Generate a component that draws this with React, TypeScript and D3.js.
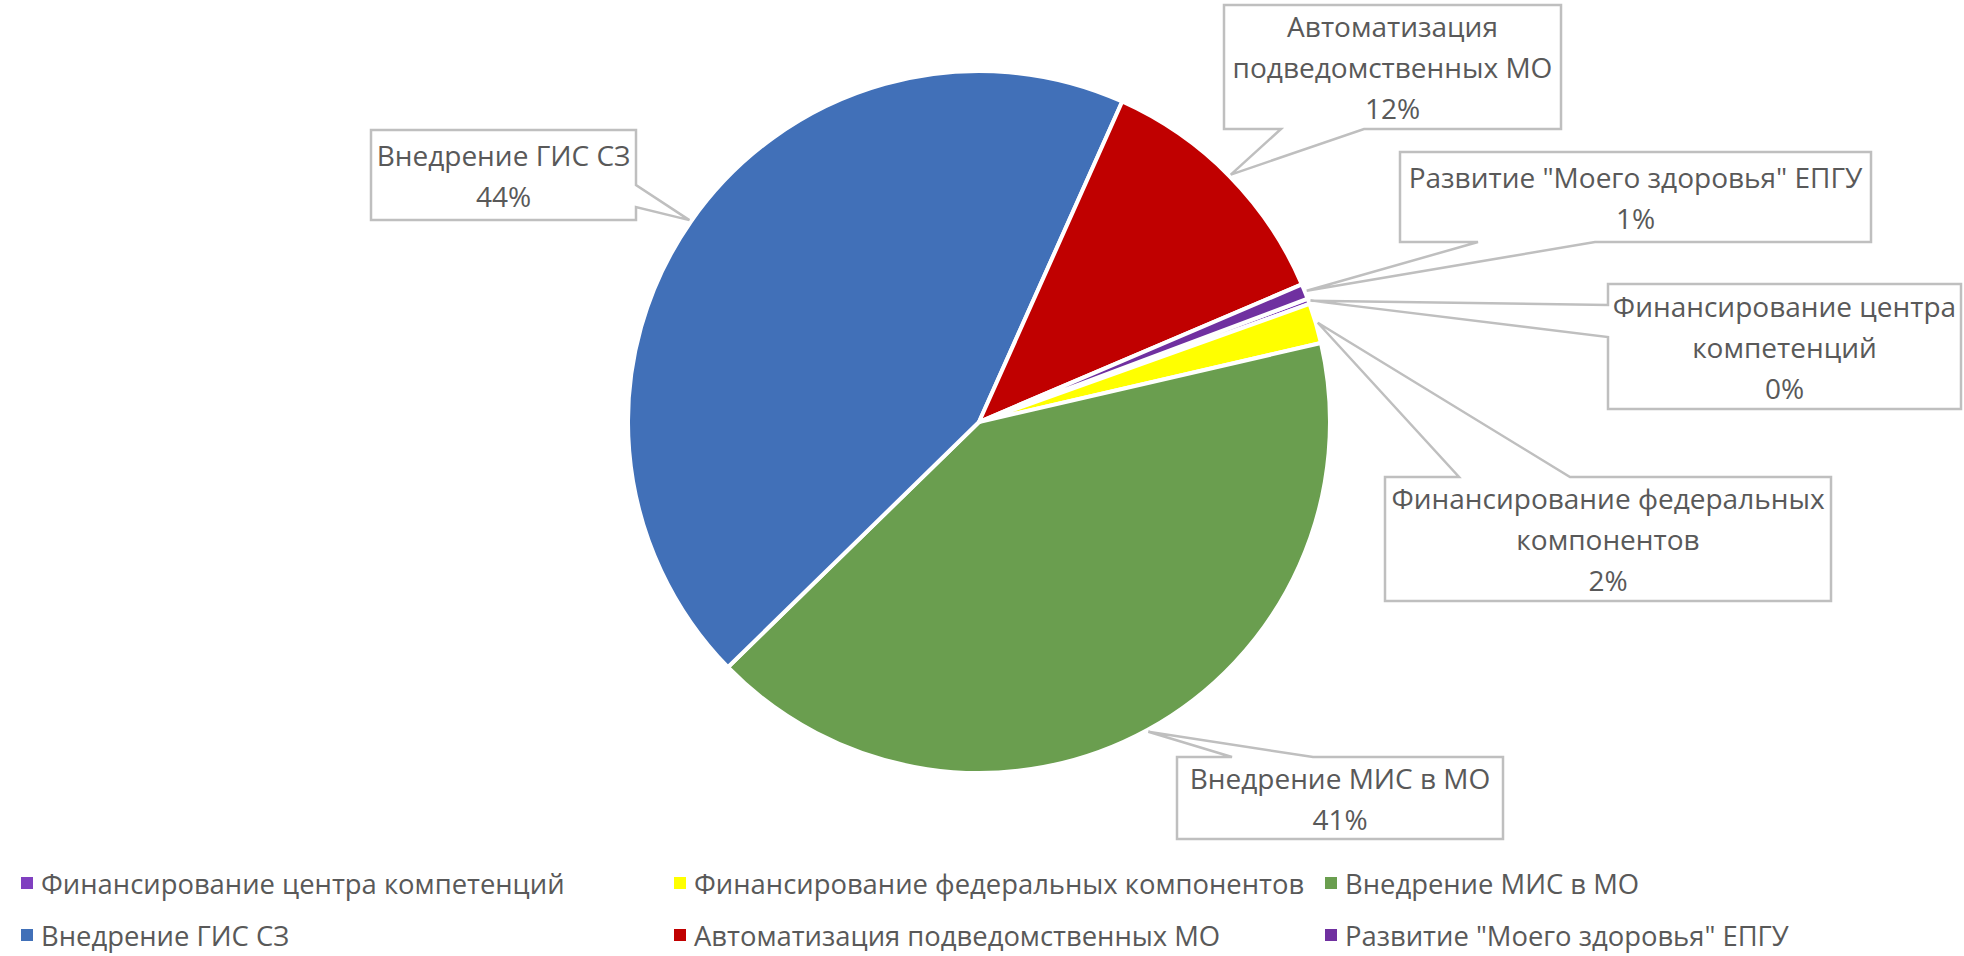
import React, { useEffect } from "react";
import { pie, arc, PieArcDatum } from "d3";

// order of series as Excel stacks them clockwise from the first slice angle
const categories = [
  "Финансирование центра компетенций",
  "Финансирование федеральных компонентов",
  "Внедрение МИС в МО",
  "Внедрение ГИС СЗ",
  "Автоматизация подведомственных МО",
  'Развитие "Моего здоровья" ЕПГУ',
];
const shares = [0.25, 1.85, 41.3, 44.0, 11.9, 0.7];
const percentLabels = ["0%", "2%", "41%", "44%", "12%", "1%"];
const labelLines = [
  ["Финансирование центра", "компетенций"],
  ["Финансирование федеральных", "компонентов"],
  ["Внедрение МИС в МО"],
  ["Внедрение ГИС СЗ"],
  ["Автоматизация", "подведомственных МО"],
  ['Развитие "Моего здоровья" ЕПГУ'],
];
const colors = ["#7E3DB8", "#FFFF00", "#6A9E4F", "#4170B8", "#C00000", "#7030A0"];

// callout boxes (layout only): position, size, which edge carries the pointer
const callouts = [
  { x: 1608, y: 284, w: 353, h: 125, side: "left", a: 21, b: 53 },
  { x: 1385, y: 477, w: 446, h: 124, side: "top", a: 74, b: 185 },
  { x: 1177, y: 757, w: 326, h: 82, side: "top", a: 55, b: 136 },
  { x: 371, y: 130, w: 265, h: 90, side: "right", a: 55, b: 77 },
  { x: 1224, y: 5, w: 337, h: 124, side: "bottom", a: 57, b: 140 },
  { x: 1400, y: 152, w: 471, h: 90, side: "bottom", a: 78, b: 195 },
];

const legendRows = [[0, 1, 2], [3, 4, 5]];
const legendColors = ["#8040C0", "#FFFF00", "#6A9E4F", "#4170B8", "#C00000", "#7030A0"];

const W = 1964;
const H = 956;
const cx = 979;
const cy = 422;
const R = 351;
const FONT = "'Open Sans', 'Noto Sans', sans-serif";
const TEXT = "#595959";
const LINE = "#BFBFBF";

const startDeg = 69.44;

function calloutPath(c: any, tx: number, ty: number) {
  const { x, y, w, h, a, b } = c;
  if (c.side === "top")
    return `M${x},${y}H${x + a}L${tx},${ty}L${x + b},${y}H${x + w}V${y + h}H${x}Z`;
  if (c.side === "right")
    return `M${x},${y}H${x + w}V${y + a}L${tx},${ty}L${x + w},${y + b}V${y + h}H${x}Z`;
  if (c.side === "bottom")
    return `M${x},${y}H${x + w}V${y + h}H${x + b}L${tx},${ty}L${x + a},${y + h}H${x}Z`;
  return `M${x},${y}H${x + w}V${y + h}H${x}V${y + b}L${tx},${ty}L${x},${y + a}Z`;
}

export default function App() {
  useEffect(() => {
    document.body.style.margin = "0";
  }, []);

  const start = (startDeg * Math.PI) / 180;
  const slices = pie<number>()
    .sort(null)
    .startAngle(start)
    .endAngle(start + 2 * Math.PI)(shares);
  const arcGen = arc<PieArcDatum<number>>().innerRadius(0).outerRadius(R);

  const lineH = 41;

  return (
    <svg width={W} height={H} style={{ display: "block", background: "#fff" }}>
      <g transform={`translate(${cx},${cy})`}>
        {slices.map((s, i) => (
          <path key={i} d={arcGen(s) || ""} fill={colors[i]} stroke="#fff" strokeWidth={4} strokeLinejoin="round" />
        ))}
      </g>
      {slices.map((s, i) => {
        const mid = (s.startAngle + s.endAngle) / 2;
        const tx = cx + (R + 2) * Math.sin(mid);
        const ty = cy - (R + 2) * Math.cos(mid);
        const c = callouts[i];
        const lines = [...labelLines[i], percentLabels[i]];
        const midY = c.y + c.h / 2;
        return (
          <g key={i}>
            <path d={calloutPath(c, tx, ty)} fill="#fff" stroke={LINE} strokeWidth={2.5} />
            {lines.map((t, j) => (
              <text
                key={j}
                x={c.x + c.w / 2}
                y={midY + (j - (lines.length - 1) / 2) * lineH}
                textAnchor="middle"
                dominantBaseline="central"
                fontFamily={FONT}
                fontSize={28}
                fill={TEXT}
              >
                {t}
              </text>
            ))}
          </g>
        );
      })}
      {legendRows.map((row, r) =>
        row.map((idx, k) => {
          const lx = [21, 674, 1325][k];
          const ly = [883, 935][r];
          return (
            <g key={`${r}-${k}`}>
              <rect x={lx} y={ly - 6} width={12} height={12} fill={legendColors[idx]} />
              <text x={lx + 20} y={ly} dominantBaseline="central" fontFamily={FONT} fontSize={27.4} fill={TEXT}>
                {categories[idx]}
              </text>
            </g>
          );
        })
      )}
    </svg>
  );
}
